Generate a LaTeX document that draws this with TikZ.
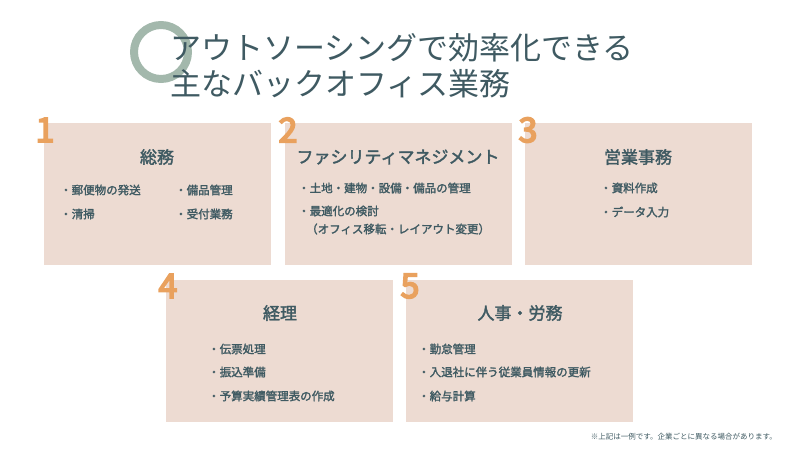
\documentclass[tikz,border=0pt]{standalone}
\usepackage{fontspec}
\newfontfamily\jp{Noto Sans CJK JP}
\newfontfamily\jpb{Noto Sans CJK JP}[FakeBold=2]
\newfontfamily\numfont{Noto Sans CJK JP}[FakeBold=5]
\setmainfont{Noto Sans CJK JP}
\definecolor{boxfill}{HTML}{EDDBD2}
\definecolor{ink}{HTML}{3F5A62}
\definecolor{ringc}{HTML}{A3B8AC}
\definecolor{numc}{HTML}{E9A15E}
\newcommand*{\TaskBox}[3]{% #1 = name, #2 = x, #3 = y (top left)
  \node[taskbox, anchor=north west] (#1) at (#2,#3) {};
}
\begin{document}
\begin{tikzpicture}[x=1pt,y=-1pt,
  taskbox/.style={fill=boxfill, draw=none, minimum width=227pt, minimum height=142pt, inner sep=0pt},
  boxtitle/.style={text=ink, font=\jpb\fontsize{17}{19}\selectfont, anchor=center, inner sep=0pt},
  item/.style={text=ink, font=\jpb\fontsize{11.5}{13}\selectfont, anchor=west, inner sep=0pt},
  num/.style={text=numc, font=\numfont\fontsize{34}{34}\selectfont, inner sep=0pt, anchor=center}]
  \useasboundingbox (0,0) rectangle (800,450);
  % title
  \draw[ringc, line width=8pt] (161,52) circle (27);
  \node[text=ink, font=\jp\fontsize{31}{36}\selectfont, anchor=north west, align=left, inner sep=0pt] (title) at (170,33)
    {アウトソーシングで効率化できる\\主なバックオフィス業務};
  % boxes
  \TaskBox{b1}{44}{123}
  \TaskBox{b2}{285}{123}
  \TaskBox{b3}{525}{123}
  \TaskBox{b4}{166}{280}
  \TaskBox{b5}{406}{280}
  % numbers
  \foreach \n/\x/\y in {1/45/130, 2/288/130, 3/528/130, 4/168/286, 5/410/286}
    \node[num] (n\n) at (\x,\y) {\n};
  % box 1
  \node[boxtitle] (t1) at (157,157) {総務};
  \node[item] (i11) at (60,190) {・郵便物の発送};
  \node[item] (i12) at (60,214) {・清掃};
  \node[item] (i13) at (175,190) {・備品管理};
  \node[item] (i14) at (175,214) {・受付業務};
  % box 2
  \node[boxtitle] (t2) at (398,157) {ファシリティマネジメント};
  \node[item] (i21) at (298,188) {・土地・建物・設備・備品の管理};
  \node[item] (i22) at (298,211) {・最適化の検討};
  \node[item] (i23) at (306,229) {（オフィス移転・レイアウト変更）};
  % box 3
  \node[boxtitle] (t3) at (638,157) {営業事務};
  \node[item] (i31) at (600,188) {・資料作成};
  \node[item] (i32) at (600,212) {・データ入力};
  % box 4
  \node[boxtitle] (t4) at (280,313) {経理};
  \node[item] (i41) at (208,349) {・伝票処理};
  \node[item] (i42) at (208,372) {・振込準備};
  \node[item] (i43) at (208,396) {・予算実績管理表の作成};
  % box 5
  \node[boxtitle] (t5) at (520,313) {人事・労務};
  \node[item] (i51) at (418,349) {・勤怠管理};
  \node[item] (i52) at (418,372) {・入退社に伴う従業員情報の更新};
  \node[item] (i53) at (418,396) {・給与計算};
  % note
  \node[text=ink, font=\jp\fontsize{7.5}{9}\selectfont, anchor=east, inner sep=0pt] (note) at (777,437)
    {※上記は一例です。企業ごとに異なる場合があります。};
\end{tikzpicture}
\end{document}
